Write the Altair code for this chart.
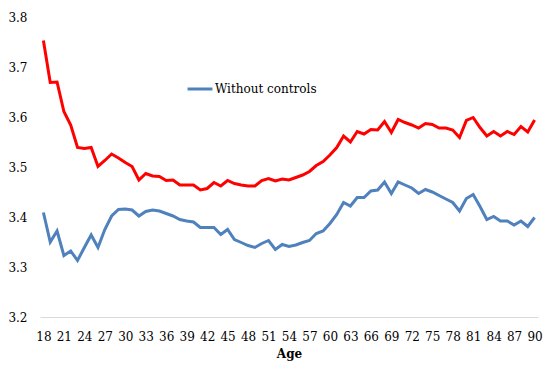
import altair as alt
import pandas as pd

ages = list(range(18, 91))

with_controls = [
    3.753, 3.669, 3.670, 3.611, 3.584, 3.539, 3.537, 3.539, 3.501, 3.513,
    3.526, 3.518, 3.509, 3.501, 3.474, 3.487, 3.482, 3.481, 3.473, 3.474,
    3.464, 3.464, 3.464, 3.454, 3.457, 3.469, 3.462, 3.473, 3.467, 3.464,
    3.462, 3.462, 3.473, 3.477, 3.472, 3.476, 3.474, 3.479, 3.484, 3.491,
    3.503, 3.511, 3.524, 3.539, 3.562, 3.550, 3.571, 3.566, 3.575, 3.574,
    3.591, 3.569, 3.595, 3.589, 3.584, 3.578, 3.587, 3.585, 3.578, 3.578,
    3.574, 3.559, 3.593, 3.599, 3.579, 3.562, 3.571, 3.562, 3.571, 3.565,
    3.581, 3.570, 3.594,
]

without_controls = [
    3.409, 3.350, 3.372, 3.323, 3.332, 3.313, 3.339, 3.364, 3.339, 3.375,
    3.402, 3.415, 3.416, 3.414, 3.402, 3.411, 3.414, 3.412, 3.407, 3.402,
    3.395, 3.392, 3.390, 3.379, 3.379, 3.379, 3.365, 3.375, 3.355, 3.349,
    3.343, 3.339, 3.347, 3.353, 3.335, 3.345, 3.341, 3.344, 3.349, 3.353,
    3.367, 3.372, 3.387, 3.405, 3.429, 3.422, 3.439, 3.439, 3.452, 3.454,
    3.470, 3.447, 3.470, 3.464, 3.458, 3.447, 3.455, 3.450, 3.443, 3.436,
    3.429, 3.412, 3.437, 3.445, 3.421, 3.395, 3.401, 3.392, 3.392, 3.384,
    3.392, 3.381, 3.399,
]

x_ticks = list(range(18, 91, 3))
y_ticks = [3.2, 3.3, 3.4, 3.5, 3.6, 3.7, 3.8]

series_names = ["Without controls", "With controls"]
series_colors = ["#4f81bd", "#ff0000"]

df = pd.concat([
    pd.DataFrame({"Age": ages, "value": without_controls, "series": series_names[0]}),
    pd.DataFrame({"Age": ages, "value": with_controls, "series": series_names[1]}),
])

font = "DejaVu Serif"

chart = alt.Chart(df).mark_line(strokeWidth=3).encode(
    x=alt.X("Age:Q",
            scale=alt.Scale(domain=[17.5, 90.5], nice=False, zero=False),
            axis=alt.Axis(values=x_ticks, ticks=False, grid=False,
                          domainColor="#d9d9d9", domainWidth=1,
                          labelFont=font, labelFontSize=12, labelColor="#000000",
                          labelPadding=14, labelFlush=False,
                          title="Age", titleFont=font, titleFontSize=12,
                          titleFontWeight="bold", titleColor="#000000",
                          titlePadding=6)),
    y=alt.Y("value:Q",
            scale=alt.Scale(domain=[3.2, 3.8], nice=False, zero=False),
            axis=alt.Axis(values=y_ticks, format=".1f", ticks=False, grid=False,
                          domain=False, labelFont=font, labelFontSize=12,
                          labelColor="#000000", labelPadding=13, title=None)),
    color=alt.Color("series:N",
                    scale=alt.Scale(domain=series_names, range=series_colors),
                    legend=alt.Legend(values=["Without controls"], title=None,
                                      orient="none", legendX=146, legendY=58,
                                      symbolType="stroke", symbolStrokeWidth=3,
                                      symbolSize=620, labelFont=font,
                                      labelFontSize=12, labelColor="#000000",
                                      labelOffset=1)),
    order=alt.Order("Age:Q"),
).properties(
    width=498, height=300,
    padding={"left": 32, "top": 9, "right": 5, "bottom": 50},
    autosize=alt.AutoSizeParams(type="none"),
).configure_view(stroke=None)

chart.save("out.html", embed_options={"renderer": "svg", "actions": False})
